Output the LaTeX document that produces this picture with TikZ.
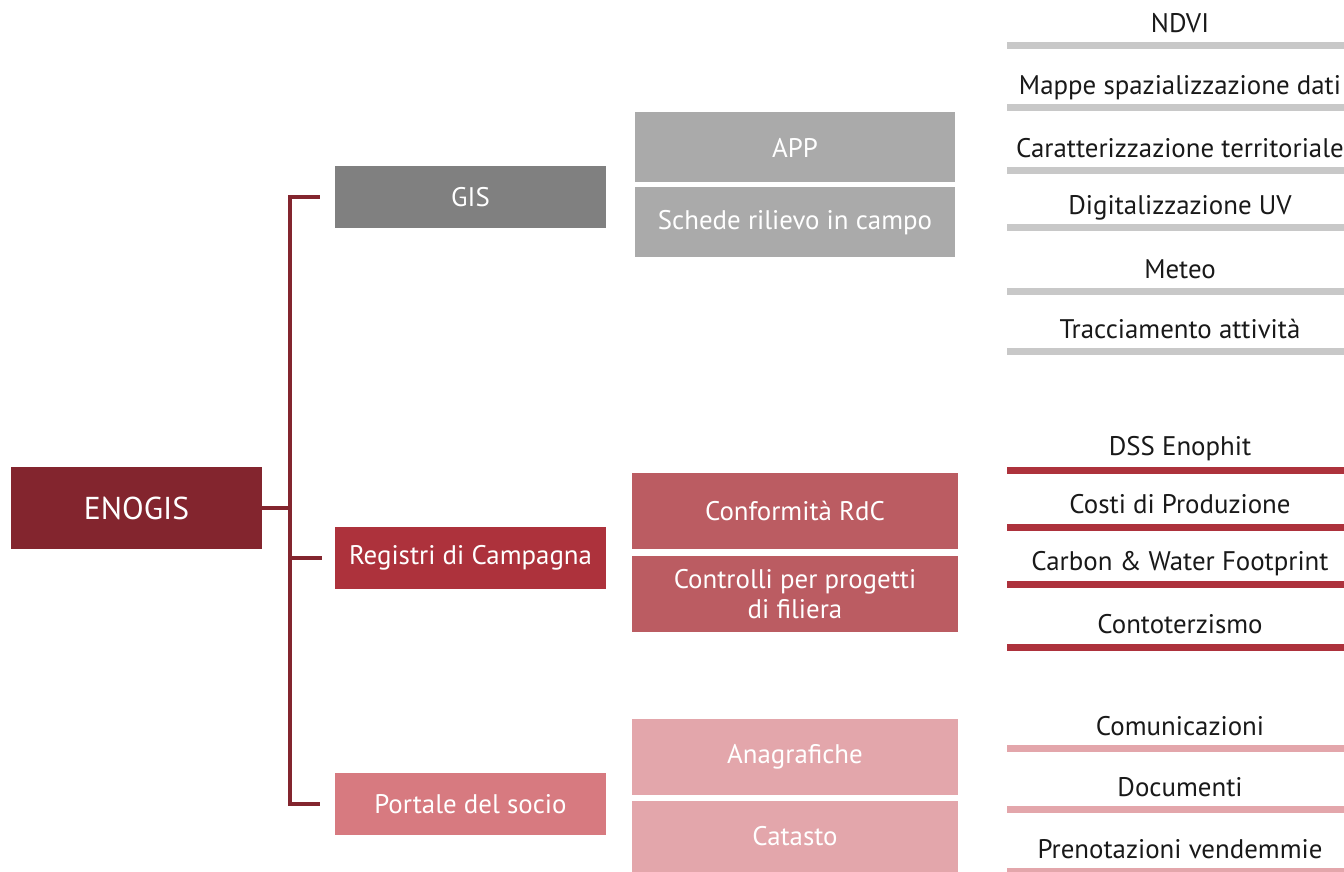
\documentclass[tikz,border=0pt]{standalone}
\usepackage{fontspec}
\setmainfont{PT Sans}
\usepackage{tikz}

\definecolor{wine}{HTML}{83252E}
\definecolor{gisgrey}{HTML}{808080}
\definecolor{appgrey}{HTML}{AAAAAA}
\definecolor{bargrey}{HTML}{C8C8C8}
\definecolor{regred}{HTML}{AD323C}
\definecolor{ctlred}{HTML}{BB5C62}
\definecolor{portpink}{HTML}{D77A80}
\definecolor{lightpink}{HTML}{E3A6AB}

\tikzset{
  box/.style={shape=rectangle,text=white,inner sep=0pt,align=center,font=\fontsize{15.3}{17}\selectfont},
  rootbox/.style={box,fill=wine,minimum width=50.2mm,minimum height=16.4mm,font=\fontsize{18}{21}\selectfont},
  areabox/.style={box,minimum width=54.2mm,minimum height=12.4mm},
  greybox/.style={box,fill=appgrey,minimum width=64mm,minimum height=14mm},
  subbox/.style={box,minimum width=65.2mm,minimum height=15.2mm},
  item/.style={anchor=base,text=black!90,inner sep=0pt,font=\fontsize{15.3}{17}\selectfont},
  link/.style={draw=wine,line width=0.65mm}
}

\begin{document}
\begin{tikzpicture}[x=0.2mm,y=-0.2mm]

    \useasboundingbox (0,0) rectangle (1344,872);

    % first and second level
    \node[rootbox] (enogis) at (136.5,508) {ENOGIS};
    \node[areabox,fill=gisgrey]  (gis)      at (470.5,197) {GIS};
    \node[areabox,fill=regred]   (registri) at (470.5,558) {Registri di Campagna};
    \node[areabox,fill=portpink] (portale)  at (470.5,804) {Portale del socio};

    \coordinate (spine) at (290,0);

    \draw[link] (enogis.east) -- (enogis -| spine);
    \draw[link] ([xshift=-3mm]gis.west) -- (gis -| spine) -- (portale -| spine) -- ([xshift=-3mm]portale.west);
    \draw[link] (registri -| spine) -- ([xshift=-2.6mm]registri.west);

    % third level
    \node[greybox] (app)    at (795,147.5) {APP};
    \node[greybox] (schede) at (795,222.5) {Schede rilievo in campo};

    \node[subbox,fill=ctlred] (conformita) at (795,511) {Conformità RdC};
    \node[subbox,fill=ctlred] (controlli)  at (795,594) {Controlli per progetti\\di filiera};

    \node[subbox,fill=lightpink] (anagrafiche) at (795,757) {Anagrafiche};
    \node[subbox,fill=lightpink,minimum height=14.2mm] (catasto) at (795,836.5) {Catasto};

    % right column
    \foreach \lbl/\y [count=\i] in {NDVI/42,Mappe spazializzazione dati/104,Caratterizzazione territoriale/167,Digitalizzazione UV/224,Meteo/288,Tracciamento attività/348}{
        \node[item] (g\i) at (1180,\y-9) {\lbl};
        \fill[bargrey] (1007,\y) rectangle (1344,\y+7);
    }
    \foreach \lbl/\y [count=\i] in {DSS Enophit/467,Costi di Produzione/524,Carbon \& Water Footprint/581,Contoterzismo/644}{
        \node[item] (r\i) at (1180,\y-11) {\lbl};
        \fill[regred] (1007,\y) rectangle (1344,\y+7);
    }
    \foreach \lbl/\y [count=\i] in {Comunicazioni/745,Documenti/806,Prenotazioni vendemmie/868}{
        \node[item] (p\i) at (1180,\y-10) {\lbl};
        \fill[lightpink] (1007,\y) rectangle (1344,\y+7);
    }
\end{tikzpicture}
\end{document}
